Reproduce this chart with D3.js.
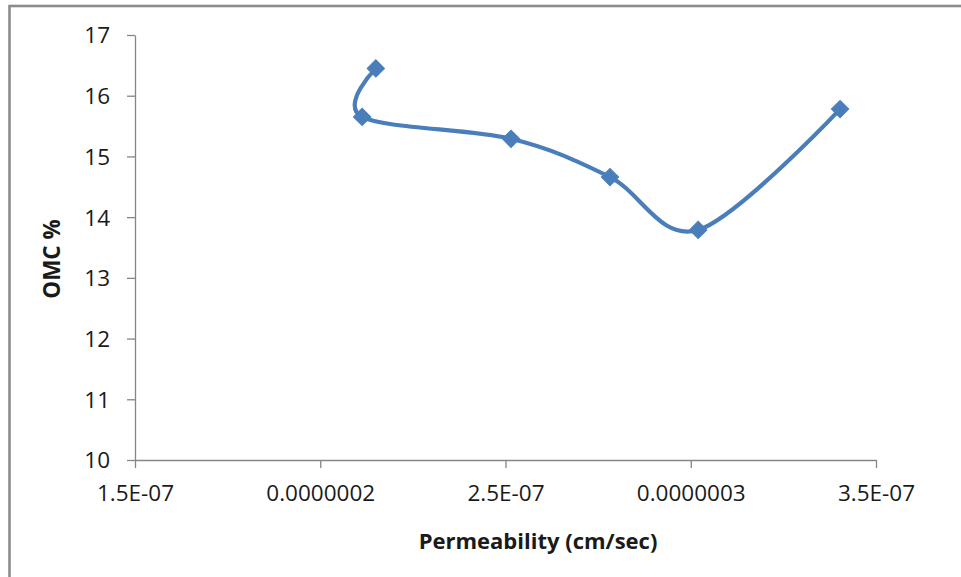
<!DOCTYPE html>
<html>
<head>
<meta charset="utf-8">
<script src="https://cdn.jsdelivr.net/npm/d3@7"></script>
<style>
  html, body { margin: 0; padding: 0; background: #fff; }
  svg { display: block; font-family: "Open Sans", "Liberation Sans", sans-serif; }
</style>
</head>
<body>
<svg id="chart" width="961" height="577"></svg>
<script>
// Permeability (cm/sec) against optimum moisture content (%)
const permeability = [2.150e-7, 2.113e-7, 2.515e-7, 2.782e-7, 3.020e-7, 3.403e-7];
const omc = [16.45, 15.65, 15.29, 14.66, 13.79, 15.78];

const xTickValues = [1.5e-7, 2.0e-7, 2.5e-7, 3.0e-7, 3.5e-7];
const xTickLabels = ["1.5E-07", "0.0000002", "2.5E-07", "0.0000003", "3.5E-07"];
const yTickValues = [10, 11, 12, 13, 14, 15, 16, 17];

const points = permeability.map((p, i) => ({ x: p, y: omc[i] }));

const svg = d3.select("#chart");
const axisColor = "#868686";
const lineColor = "#4a7ebb";

// outer chart frame
svg.append("rect")
  .attr("x", 9.5).attr("y", 6)
  .attr("width", 1000).attr("height", 700)
  .attr("fill", "none")
  .attr("stroke", "#8c8c8c")
  .attr("stroke-width", 2.6);

const plot = { left: 135, right: 876, top: 35, bottom: 460 };

const x = d3.scaleLinear().domain([1.5e-7, 3.5e-7]).range([plot.left, plot.right]);
const y = d3.scaleLinear().domain([10, 17]).range([plot.bottom, plot.top]);

// x axis
const xAxis = svg.append("g")
  .attr("transform", `translate(0,${plot.bottom})`)
  .call(d3.axisBottom(x)
    .tickValues(xTickValues)
    .tickFormat((d, i) => xTickLabels[i])
    .tickSize(8)
    .tickSizeOuter(0)
    .tickPadding(17));

// y axis
const yAxis = svg.append("g")
  .attr("transform", `translate(${plot.left},0)`)
  .call(d3.axisLeft(y)
    .tickValues(yTickValues)
    .tickFormat(d3.format("d"))
    .tickSize(8)
    .tickSizeOuter(0)
    .tickPadding(17));

[xAxis, yAxis].forEach(g => {
  g.select(".domain").attr("stroke", axisColor).attr("stroke-width", 1.3);
  g.selectAll(".tick line").attr("stroke", axisColor).attr("stroke-width", 1.3);
  g.selectAll(".tick text")
    .attr("fill", "#1a1a1a")
    .style("font-size", "22.5px")
    .style("font-family", "\"Open Sans\", sans-serif");
});
yAxis.selectAll(".tick text").attr("dy", "0.35em");
xAxis.selectAll(".tick text").attr("dy", "0.71em");

// axis titles
svg.append("text")
  .attr("x", 538).attr("y", 549)
  .attr("text-anchor", "middle")
  .style("font-size", "22px")
  .style("font-weight", "bold")
  .attr("fill", "#1a1a1a")
  .text("Permeability (cm/sec)");

svg.append("text")
  .attr("transform", "translate(60,259) rotate(-90)")
  .attr("text-anchor", "middle")
  .style("font-size", "22.5px")
  .style("font-weight", "bold")
  .attr("fill", "#1a1a1a")
  .text("OMC %");

// smoothed series line
const line = d3.line()
  .x(d => x(d.x))
  .y(d => y(d.y))
  .curve(d3.curveCardinal.tension(0));

svg.append("path")
  .datum(points)
  .attr("d", line)
  .attr("fill", "none")
  .attr("stroke", lineColor)
  .attr("stroke-width", 4.2)
  .attr("stroke-linecap", "round");

// diamond markers
const diamond = d3.symbol().type(d3.symbolSquare).size(150);
svg.append("g")
  .selectAll("path")
  .data(points)
  .join("path")
  .attr("d", diamond)
  .attr("transform", d => `translate(${x(d.x)},${y(d.y)}) rotate(45)`)
  .attr("fill", lineColor)
  .attr("stroke", lineColor)
  .attr("stroke-width", 1);
</script>
</body>
</html>
